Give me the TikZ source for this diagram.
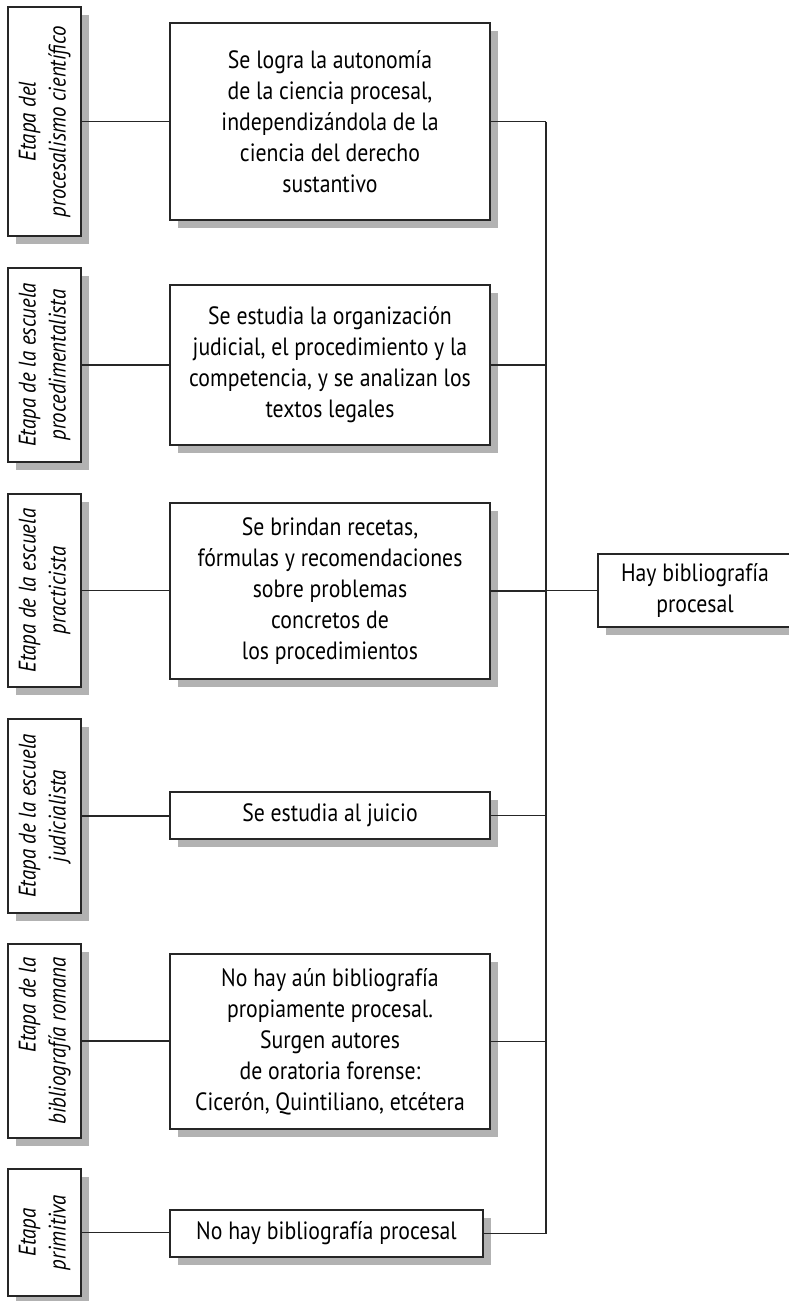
\documentclass[tikz,border=0pt]{standalone}
\usepackage{fontspec}
\setmainfont{PT Sans}[FakeStretch=0.87]
\usepackage{graphicx}
\usetikzlibrary{shadows}
\tikzset{
  box/.style={draw=black!85, line width=1.1pt, fill=white, inner sep=0pt, align=center,
    font=\fontsize{25}{31}\selectfont,
    drop shadow={shadow xshift=8pt, shadow yshift=-8pt, fill=black!30, opacity=1}},
  stage/.style={box, minimum width=73pt},
  link/.style={draw=black!85, line width=1.1pt}
}
\newcommand{\vlab}[2][c]{\rotatebox{90}{\fontsize{24}{30}\selectfont\itshape\begin{tabular}{@{}#1@{}}#2\end{tabular}}}
\begin{document}
\begin{tikzpicture}[x=1pt,y=-1pt]
\useasboundingbox (0,0) rectangle (788,1301);
% stage boxes (left)
\node[stage, minimum height=229pt] (s1) at (44.5,121.5) {\vlab{Etapa del\\procesalismo científico}};
\node[stage, minimum height=194pt] (s2) at (44.5,365) {\vlab{Etapa de la escuela\\procedimentalista}};
\node[stage, minimum height=193pt] (s3) at (44.5,590.5) {\vlab{Etapa de la escuela\\practicista}};
\node[stage, minimum height=194pt] (s4) at (44.5,816) {\vlab{Etapa de la escuela\\judicialista}};
\node[stage, minimum height=194pt] (s5) at (44.5,1041) {\vlab[r]{Etapa de la\\bibliografía romana}};
\node[stage, minimum height=127pt] (s6) at (44.5,1232.5) {\vlab{Etapa\\primitiva}};
% middle boxes
\node[box, minimum width=320pt, minimum height=197pt] (m1) at (330,121.5) {Se logra la autonomía\\de la ciencia procesal,\\independizándola de la\\ciencia del derecho\\sustantivo};
\node[box, minimum width=320pt, minimum height=160pt] (m2) at (330,365) {Se estudia la organización\\judicial, el procedimiento y la\\competencia, y se analizan los\\textos legales};
\node[box, minimum width=320pt, minimum height=176pt] (m3) at (330,591) {Se brindan recetas,\\fórmulas y recomendaciones\\sobre problemas\\concretos de\\los procedimientos};
\node[box, minimum width=320pt, minimum height=47pt] (m4) at (330,815.5) {Se estudia al juicio};
\node[box, minimum width=320pt, minimum height=175pt] (m5) at (330,1041.5) {No hay aún bibliografía\\propiamente procesal.\\Surgen autores\\de oratoria forense:\\Cicerón, Quintiliano, etcétera};
\node[box, minimum width=313pt, minimum height=47pt] (m6) at (326.5,1233.5) {No hay bibliografía procesal};
% result box
\node[box, minimum width=194pt, minimum height=73pt] (r) at (695,590.5) {Hay bibliografía\\procesal};
\coordinate (bus) at (546,0);
% connectors
\foreach \i in {1,...,6}{
  \draw[link] (s\i.east) -- (s\i.east -| m\i.west);
  \draw[link] (m\i.east) -- (m\i.east -| bus);
}
\draw[link] (m1.east -| bus) -- (m6.east -| bus);
\draw[link] (r.west -| bus) -- (r.west);
\end{tikzpicture}
\end{document}
